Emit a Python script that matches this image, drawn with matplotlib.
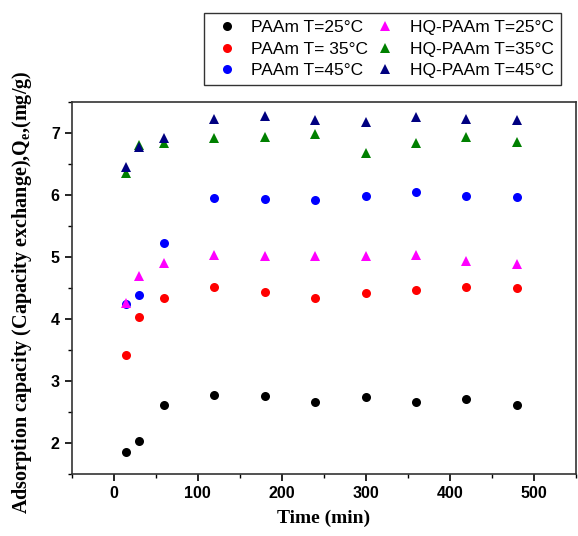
import matplotlib
matplotlib.use("Agg")
import matplotlib.pyplot as plt
from matplotlib.ticker import MultipleLocator

plt.rcParams['mathtext.fontset'] = 'custom'
plt.rcParams['mathtext.rm'] = 'Liberation Serif'
plt.rcParams['mathtext.bf'] = 'Liberation Serif:bold'
plt.rcParams['mathtext.it'] = 'Liberation Serif:italic'

time = [15, 30, 60, 120, 180, 240, 300, 360, 420, 480]

paam_25 = [1.86, 2.04, 2.62, 2.78, 2.76, 2.67, 2.75, 2.66, 2.71, 2.62]
paam_35 = [3.42, 4.04, 4.34, 4.52, 4.44, 4.34, 4.42, 4.47, 4.52, 4.50]
paam_45 = [4.25, 4.39, 5.23, 5.95, 5.93, 5.92, 5.98, 6.05, 5.99, 5.97]
hq_25 = [4.26, 4.70, 4.90, 5.04, 5.01, 5.01, 5.01, 5.03, 4.94, 4.89]
hq_35 = [6.35, 6.80, 6.84, 6.92, 6.94, 6.99, 6.68, 6.84, 6.94, 6.86]
hq_45 = [6.45, 6.77, 6.91, 7.23, 7.27, 7.20, 7.18, 7.26, 7.23, 7.20]

labels = ["PAAm T=25°C", "PAAm T= 35°C", "PAAm T=45°C",
          "HQ-PAAm T=25°C", "HQ-PAAm T=35°C", "HQ-PAAm T=45°C"]
series = [paam_25, paam_35, paam_45, hq_25, hq_35, hq_45]
colors = ["black", "#ff0000", "#0000ff", "#ff00ff", "#008000", "#000080"]
markers = ["o", "o", "o", "^", "^", "^"]

fig = plt.figure(figsize=(5.78, 5.36), dpi=100)
ax = fig.add_axes([0.124, 0.115, 0.872, 0.695])

handles = []
for vals, lab, c, m in zip(series, labels, colors, markers):
    h, = ax.plot(time, vals, linestyle='none', marker=m, color=c,
                 markersize=7 if m == "^" else 6.5, markeredgewidth=0, label=lab)
    handles.append(h)

ax.set_xlim(-50, 550)
ax.set_ylim(1.5, 7.5)
ax.xaxis.set_major_locator(MultipleLocator(100))
ax.xaxis.set_minor_locator(MultipleLocator(50))
ax.yaxis.set_major_locator(MultipleLocator(1))
ax.yaxis.set_minor_locator(MultipleLocator(0.5))
ax.tick_params(which='major', direction='out', length=5, width=1.2)
ax.tick_params(which='minor', direction='out', length=3, width=1.0)
for sp in ax.spines.values():
    sp.set_linewidth(1.2)
    sp.set_color('#333333')

for lbl in ax.get_xticklabels() + ax.get_yticklabels():
    lbl.set_fontfamily('Liberation Sans')
    lbl.set_fontweight('bold')
    lbl.set_fontsize(11.5)

ax.set_xlabel("Time (min)", fontfamily='Liberation Serif', fontweight='bold',
              fontsize=14, labelpad=6)
ax.set_ylabel(r"Adsorption capacity (Capacity exchange),Q$_\mathbf{e}$,(mg/g)",
              fontfamily='Liberation Serif', fontweight='bold', fontsize=14.5)
ax.yaxis.set_label_coords(-0.074, 0.49)

leg = fig.legend(handles=handles, loc='upper left', bbox_to_anchor=(0.353, 0.976),
                 ncol=2, frameon=True, fancybox=False, edgecolor='black',
                 prop={'family': 'Liberation Sans', 'size': 12.5},
                 handletextpad=0.55, columnspacing=0.1, labelspacing=0.36,
                 borderpad=0.42, handlelength=1.75, borderaxespad=0)
leg.get_frame().set_linewidth(1.0)

fig.savefig("out.png", dpi=100)
